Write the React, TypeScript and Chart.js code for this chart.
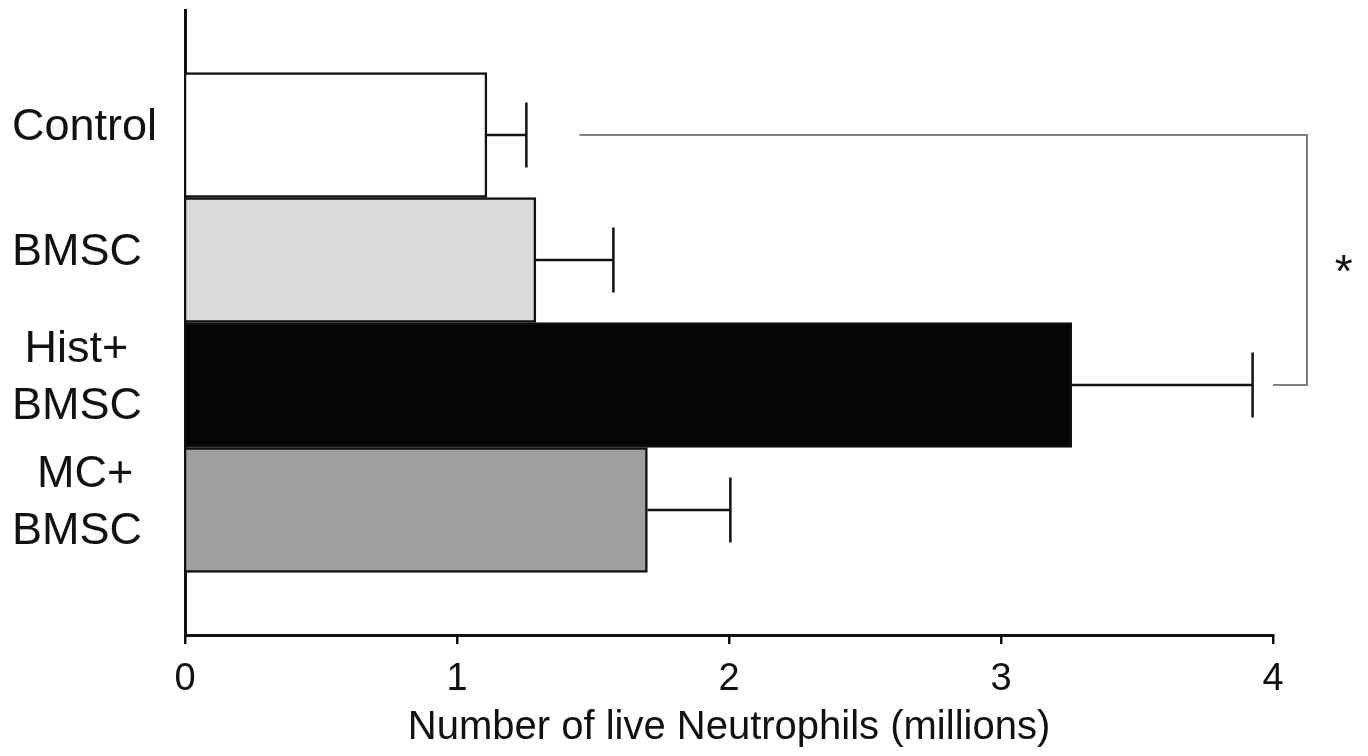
import React, { useEffect, useRef } from "react";
import { Chart, registerables } from "chart.js";

Chart.register(...registerables);

// ---- data ----
const categoryLines: string[][] = [["Control"], ["BMSC"], [" Hist+", "BMSC"], ["  MC+", "BMSC"]];
const positions = [1, 2, 3, 4];
const values = [1.11, 1.29, 3.26, 1.7];
const errors = [0.145, 0.285, 0.665, 0.305];
const barColors = ["#ffffff", "#dadada", "#050505", "#9f9f9f"];
const xTicks = [0, 1, 2, 3, 4];
const xTitle = "Number of live Neutrophils (millions)";
// significance bracket between Control (index 0) and Hist+BMSC (index 2)
const sigFromIndex = 0;
const sigToIndex = 2;
const sigStartValue = 1.45;
const sigBracketValue = 4.125;
const sigEndValue = 4.0;
const sigStarValue = 4.26;
const sigLabel = "*";

const FONT = "'Liberation Sans', Arial, Helvetica, sans-serif";

const errorBarPlugin = {
  id: "errorBarsAndBracket",
  afterDatasetsDraw(chart: any) {
    const ctx = chart.ctx;
    const meta = chart.getDatasetMeta(0);
    const xS = chart.scales.x;
    const yS = chart.scales.y;
    ctx.save();
    ctx.strokeStyle = "#111";
    ctx.lineWidth = 2.5;
    meta.data.forEach((bar: any, i: number) => {
      const { x, y, height } = bar.getProps(["x", "y", "height"], true);
      const xe = xS.getPixelForValue(values[i] + errors[i]);
      const cap = height * 0.26;
      ctx.beginPath();
      ctx.moveTo(x, y);
      ctx.lineTo(xe, y);
      ctx.moveTo(xe, y - cap);
      ctx.lineTo(xe, y + cap);
      ctx.stroke();
    });
    // bracket
    const y1 = yS.getPixelForValue(positions[sigFromIndex]);
    const y2 = yS.getPixelForValue(positions[sigToIndex]);
    const xs = xS.getPixelForValue(sigStartValue);
    const xb = xS.getPixelForValue(sigBracketValue);
    const xend = xS.getPixelForValue(sigEndValue);
    ctx.strokeStyle = "#808080";
    ctx.lineWidth = 2;
    ctx.beginPath();
    ctx.moveTo(xs, y1);
    ctx.lineTo(xb, y1);
    ctx.lineTo(xb, y2);
    ctx.lineTo(xend, y2);
    ctx.stroke();
    // star
    ctx.fillStyle = "#111";
    ctx.font = `46px ${FONT}`;
    ctx.textAlign = "center";
    ctx.textBaseline = "middle";
    ctx.fillText(sigLabel, xS.getPixelForValue(sigStarValue), (y1 + y2) / 2 + 14);
    ctx.restore();
  },
};

export default function App() {
  const ref = useRef<HTMLCanvasElement | null>(null);
  useEffect(() => {
    if (!ref.current) return;
    const chart = new Chart(ref.current, {
      type: "bar",
      data: {
        datasets: [
          {
            data: values.map((v, i) => ({ x: v, y: positions[i] })),
            backgroundColor: barColors,
            borderColor: "#111",
            borderWidth: 2.5,
            barPercentage: 1,
            categoryPercentage: 1,
          },
        ],
      },
      options: {
        indexAxis: "y",
        animation: false,
        responsive: false,
        layout: { padding: { top: 10, right: 95, left: 12, bottom: 0 } },
        plugins: { legend: { display: false }, tooltip: { enabled: false } },
        scales: {
          x: {
            type: "linear",
            min: xTicks[0],
            max: xTicks[xTicks.length - 1],
            offset: false,
            afterBuildTicks: (scale: any) => {
              scale.ticks = xTicks.map((v) => ({ value: v }));
            },
            afterFit: (scale: any) => {
              scale.height = 121;
              scale.paddingLeft = 0;
              scale.paddingRight = 0;
            },
            ticks: {
              color: "#111",
              font: { family: FONT, size: 38, lineHeight: 1.2 },
              padding: 13,
              maxRotation: 0,
            },
            grid: {
              display: true,
              offset: false,
              drawOnChartArea: false,
              drawTicks: true,
              tickLength: 9,
              color: "#111",
              lineWidth: 2.5,
            },
            border: { display: true, color: "#111", width: 3 },
            title: {
              display: true,
              text: xTitle,
              color: "#111",
              font: { family: FONT, size: 40, lineHeight: 1.2 },
              padding: { top: 1, bottom: 4 },
            },
          },
          y: {
            type: "linear",
            min: 0,
            max: positions.length + 1,
            reverse: true,
            offset: false,
            afterBuildTicks: (scale: any) => {
              scale.ticks = positions.map((p) => ({ value: p }));
            },
            afterFit: (scale: any) => {
              scale.width = 173;
              scale.paddingTop = 0;
              scale.paddingBottom = 0;
            },
            ticks: {
              color: "#111",
              font: { family: FONT, size: 45, lineHeight: 1.28 },
              crossAlign: "far",
              labelOffset: -7,
              callback: (value: any) => {
                const idx = positions.indexOf(Number(value));
                return idx >= 0 ? categoryLines[idx] : "";
              },
            },
            grid: { display: false, offset: false },
            border: { display: true, color: "#111", width: 3 },
          },
        },
      },
      plugins: [errorBarPlugin],
    } as any);
    return () => chart.destroy();
  }, []);

  return (
    <div style={{ position: "fixed", left: 0, top: 0, width: 1368, height: 756, background: "#fff" }}>
      <canvas ref={ref} width={1368} height={756} style={{ display: "block" }} />
    </div>
  );
}
